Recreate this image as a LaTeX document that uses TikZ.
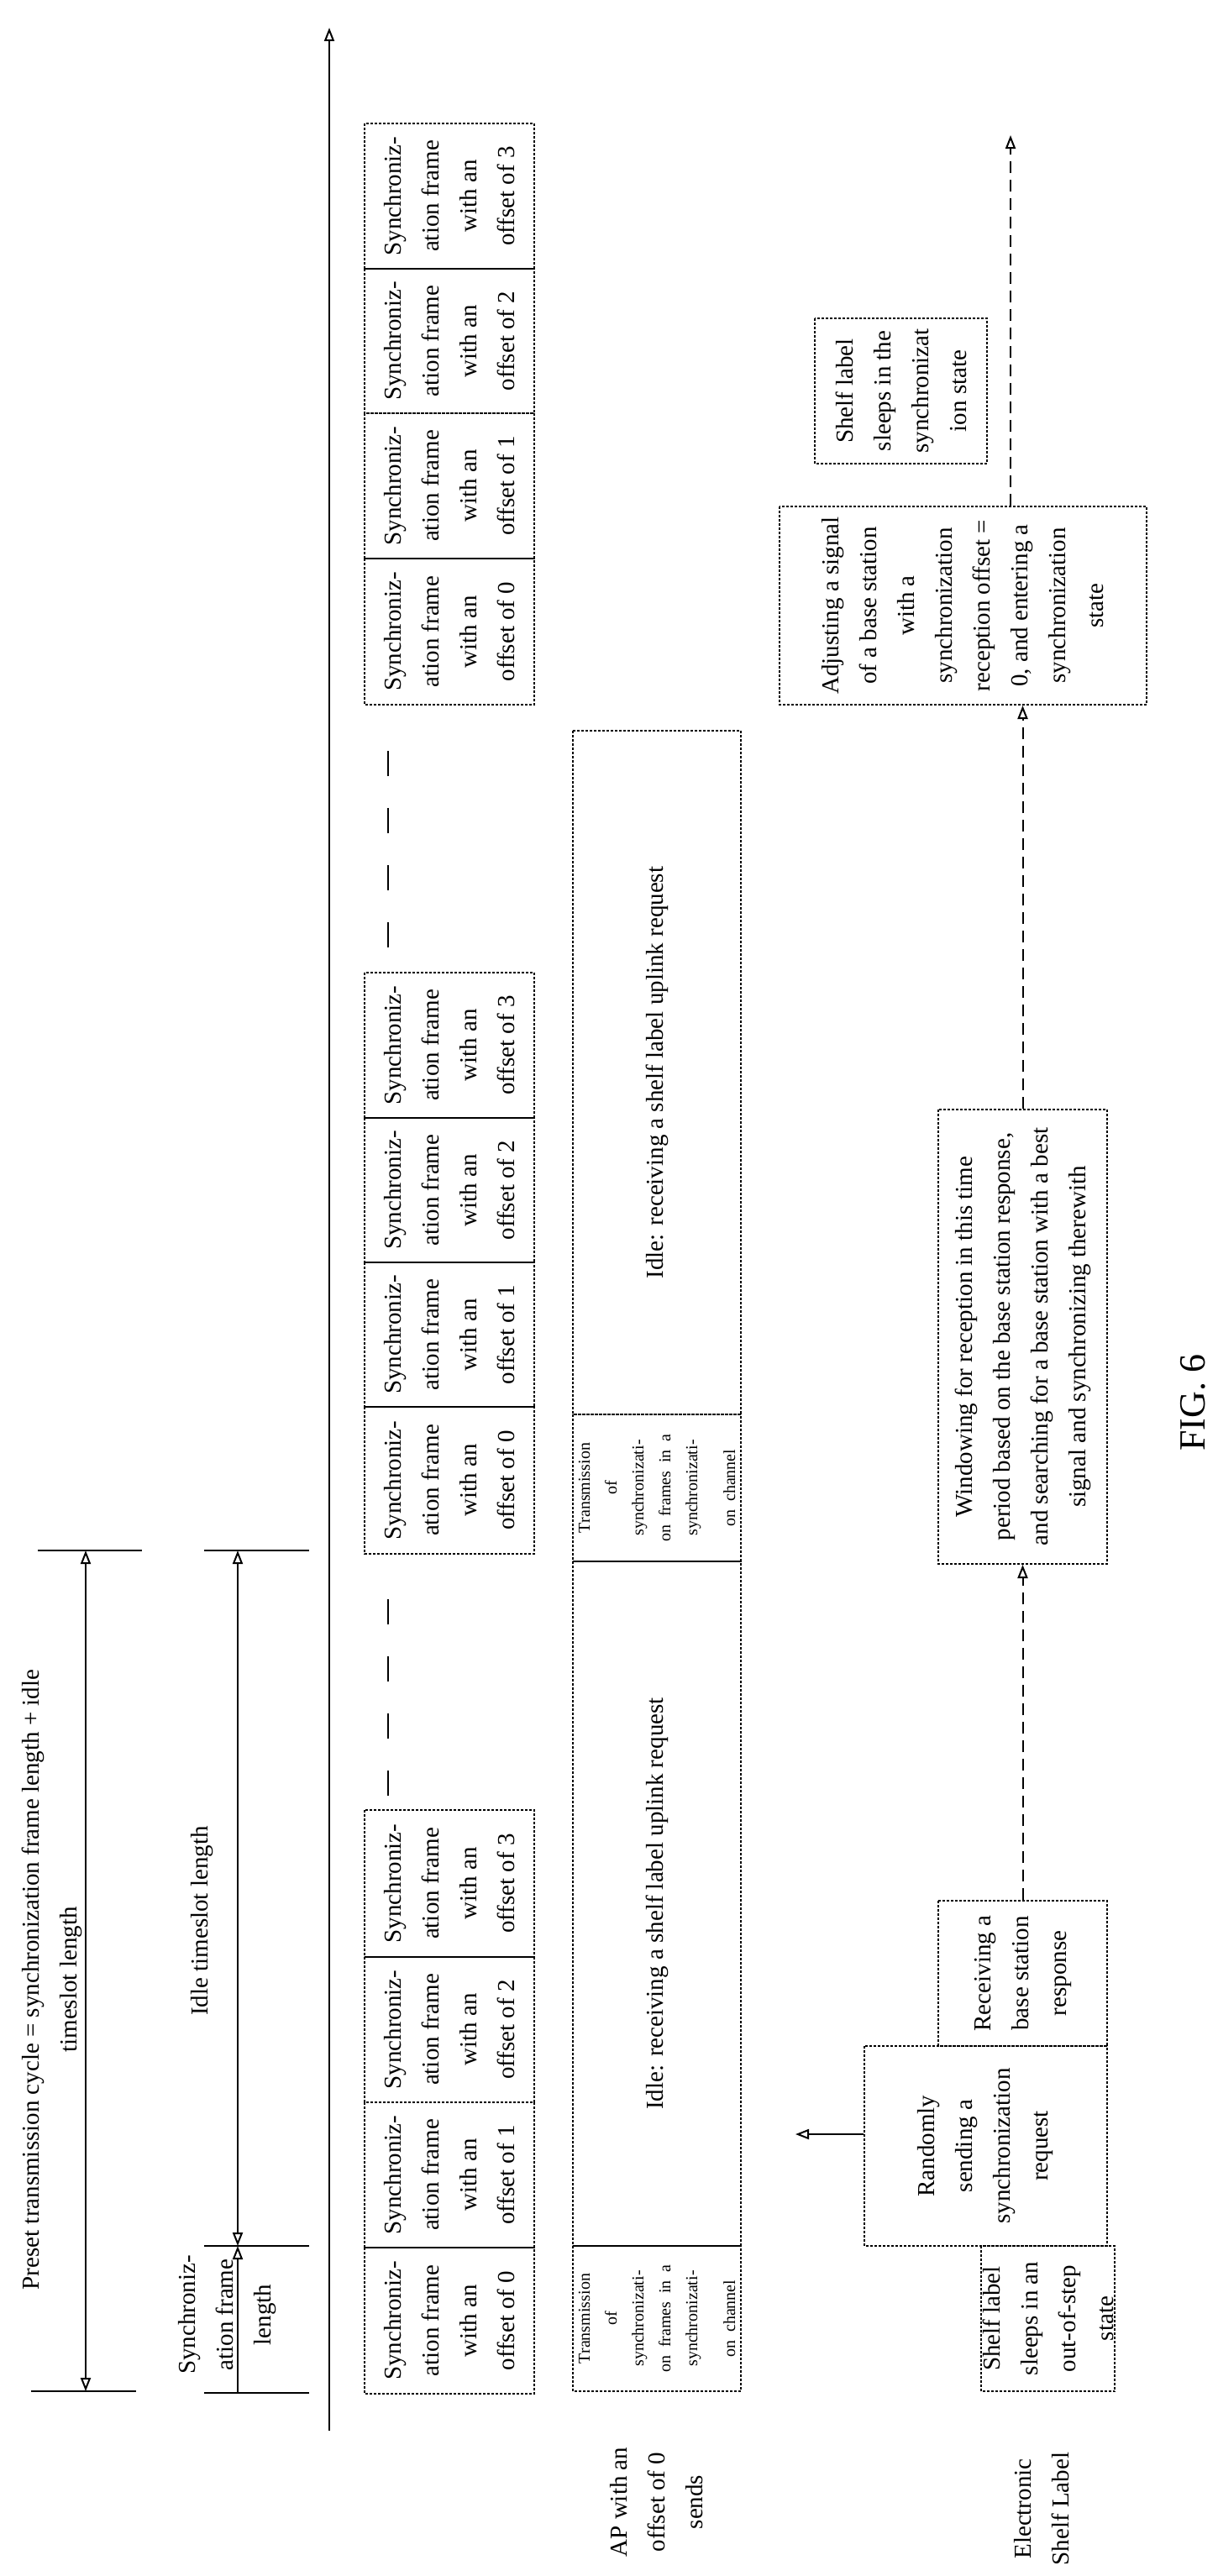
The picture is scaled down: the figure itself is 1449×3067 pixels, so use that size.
\documentclass[tikz,border=0pt]{standalone}
\usepackage{fontspec}
\setmainfont{Liberation Serif}
\usetikzlibrary{arrows.meta}
\begin{document}
\begin{tikzpicture}[x=1pt,y=-1pt,line width=2pt,
  box/.style={draw,densely dashed,rotate=90,align=center,inner sep=2pt,font=\fontsize{29}{45}\selectfont},
  txt/.style={rotate=90,align=center,inner sep=0pt,font=\fontsize{29}{45}\selectfont},
  tip/.style={-{Triangle[open,length=16pt,width=12pt]}},
  dtip/.style={{Triangle[open,length=16pt,width=12pt]}-{Triangle[open,length=16pt,width=12pt]}},
  dsh/.style={dash pattern=on 14pt off 8pt}]
\useasboundingbox (0,0) rectangle (1449,3067);
\newcommand{\syncbox}[4]{\node[box,minimum width=#3,minimum height=202pt] (#1) at (535,#2) {Synchroniz-\\ation frame\\with an\\offset of #4};}
% sync frames groups
\syncbox{a0}{2763}{174pt}{0}\syncbox{a1}{2589.5}{173pt}{1}\syncbox{a2}{2416.5}{173pt}{2}\syncbox{a3}{2242.5}{175pt}{3}
\syncbox{b0}{1762.5}{175pt}{0}\syncbox{b1}{1589}{172pt}{1}\syncbox{b2}{1417}{172pt}{2}\syncbox{b3}{1244.5}{173pt}{3}
\syncbox{c0}{752}{174pt}{0}\syncbox{c1}{578.5}{173pt}{1}\syncbox{c2}{406}{172pt}{2}\syncbox{c3}{233.5}{173pt}{3}
\draw[dash pattern=on 30pt off 38pt] (462,2138) -- (462,1878);
\draw[dash pattern=on 30pt off 38pt] (462,1128) -- (462,870);
% time axis
\coordinate (ax0) at (392,2894); \coordinate (ax1) at (392,33);
\draw[tip] (ax0) -- (ax1);
% AP row
\node[box,minimum width=173pt,minimum height=200pt,text width=160pt] (tA) at (782,2760.5) {\fontsize{20}{32}\selectfont Transmission\\of\\synchronizati-\\on frames in a\\synchronizati-\\on channel};
\node[box,minimum width=815pt,minimum height=200pt] (iA) at (782,2266.5) {Idle: receiving a shelf label uplink request};
\node[box,minimum width=175pt,minimum height=200pt,text width=160pt] (tB) at (782,1771.5) {\fontsize{20}{32}\selectfont Transmission\\of\\synchronizati-\\on frames in a\\synchronizati-\\on channel};
\node[box,minimum width=814pt,minimum height=200pt] (iB) at (782,1277) {Idle: receiving a shelf label uplink request};
% dimensions
\coordinate (t1a) at (45,1846); \coordinate (t1b) at (169,1846);
\coordinate (t2a) at (243,1846); \coordinate (t2b) at (368,1846);
\coordinate (t3a) at (37,2847); \coordinate (t3b) at (162,2847);
\coordinate (t4a) at (243,2674); \coordinate (t4b) at (368,2674);
\coordinate (t5a) at (243,2849); \coordinate (t5b) at (368,2849);
\foreach \i in {1,...,5} \draw (t\i a) -- (t\i b);
\coordinate (p0) at (102,2847); \coordinate (p1) at (102,1846);
\draw[dtip] (p0) -- (p1);
\coordinate (q0) at (283,2674); \coordinate (q1) at (283,1846);
\draw[dtip] (q0) -- (q1);
\coordinate (r0) at (283,2849);
\draw[tip] (r0) -- (q0);
\node[txt] (preset) at (62,2357) {Preset transmission cycle = synchronization frame length + idle\\timeslot length};
\node[txt] (idlelen) at (241,2287) {Idle timeslot length};
\node[txt] (synlen) at (271,2756) {Synchroniz-\\ation frame\\length};
% labels
\node[txt] (ap) at (782,2979) {AP with an\\offset of 0\\sends};
\node[txt] (esl) at (1240,2987) {Electronic\\Shelf Label};
% ESL row
\node[box,minimum width=173pt,minimum height=141pt] (oos) at (1247.5,2760.5) {Shelf label\\sleeps in an\\out-of-step\\state};
\node[box,minimum width=238pt,minimum height=289pt] (rand) at (1173.5,2555) {Randomly\\sending a\\synchronization\\request};
\node[box,minimum width=173pt,minimum height=201pt] (recv) at (1217.5,2349.5) {Receiving a\\base station\\response};
\node[box,minimum width=541pt,minimum height=201pt] (win) at (1217.5,1591.5) {Windowing for reception in this time\\period based on the base station response,\\and searching for a base station with a best\\signal and synchronizing therewith};
\node[box,minimum width=236pt,minimum height=437pt] (adj) at (1146.5,721) {Adjusting a signal\\of a base station\\with a\\synchronization\\reception offset =\\0, and entering a\\synchronization\\state};
\node[box,minimum width=173pt,minimum height=205pt] (slp) at (1072.5,465.5) {Shelf label\\sleeps in the\\synchronizat\\ion state};
\coordinate (sendend) at (947,2541);
\draw[tip] (rand.north |- sendend) -- (sendend);
\draw[tip,dsh] (recv.east) -- (win.west);
\draw[tip,dsh] (win.east) -- (win.east |- adj.west);
\coordinate (fut) at (1203,161);
\draw[tip,dsh] (fut |- adj.east) -- (fut);
\node[font=\fontsize{44}{50}\selectfont,rotate=90] (fig) at (1420,1670) {FIG. 6};
\end{tikzpicture}
\end{document}
